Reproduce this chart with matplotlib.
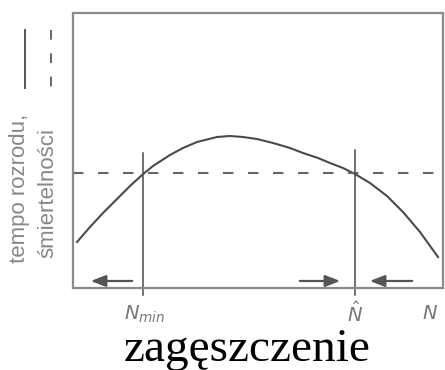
import matplotlib
matplotlib.use("Agg")
import matplotlib.pyplot as plt
from matplotlib.lines import Line2D

# values (arbitrary units)
curve_x = [4, 17, 30, 44, 57, 69, 80, 97, 110, 124, 144, 157, 170, 184, 200,
           217, 230, 245, 257, 270, 282, 297, 314, 330, 347, 365]
curve_y = [46, 61, 75, 89, 102, 113, 122, 133, 140, 146, 151, 152, 151, 149, 145,
           140, 135, 130, 125, 120, 114, 105, 92, 76, 56, 31]
death_rate = 115
n_min = 70
n_hat = 282
arrows = [(62, 15), (224, 270), (342, 294)]  # (start, end)
xlabels = ["$N_{min}$", "$\\hat{N}$", "$N$"]
xlabel_pos = [72, 282, 357]

fig = plt.figure(figsize=(4.45, 3.7), dpi=100)
ax = fig.add_axes([73 / 445, 1 - 288 / 370, 370 / 445, 275 / 370])
ax.set_xlim(0, 370)
ax.set_ylim(0, 275)
ax.set_xticks([])
ax.set_yticks([])
for s in ax.spines.values():
    s.set_color("#8a8a8a")
    s.set_linewidth(1.6)

ax.plot(curve_x, curve_y, color="#4a4a4a", lw=1.5)
ax.axhline(death_rate, color="#666666", lw=1.5, linestyle=(0, (5, 7)))
ax.plot([n_min, n_min], [135, -7], color="#4a4a4a", lw=1.1, clip_on=False)
ax.plot([n_hat, n_hat], [138, -7], color="#4a4a4a", lw=1.1, clip_on=False)

for x0, x1 in arrows:
    ax.annotate("", xy=(x1, 7), xytext=(x0, 7),
                arrowprops=dict(arrowstyle="-|>,head_length=0.9,head_width=0.35",
                                color="#555555", lw=1.6))

for lab, x in zip(xlabels, xlabel_pos):
    ax.text(x, -26, lab, ha="center", va="center", fontsize=14, color="#777777",
            family="Liberation Sans")

fig.text(247 / 445, 1 - 361 / 370, "zagęszczenie", ha="center", va="baseline",
         fontsize=34, family="Liberation Serif", color="black")

fig.text(20 / 445, 1 - 188 / 370, "tempo rozrodu,", rotation=90, ha="center",
         va="center", fontsize=16, color="#888888", family="Liberation Sans")
fig.text(48 / 445, 1 - 193 / 370, "śmiertelności", rotation=90, ha="center",
         va="center", fontsize=16, color="#888888", family="Liberation Sans")

# legend strokes
fig.add_artist(Line2D([25 / 445, 25 / 445], [1 - 30 / 370, 1 - 88 / 370],
                      color="#555555", lw=1.4))
fig.add_artist(Line2D([51 / 445, 51 / 445], [1 - 30 / 370, 1 - 90 / 370],
                      color="#666666", lw=1.4, linestyle=(0, (5, 7))))

fig.savefig("out.png", dpi=100)
